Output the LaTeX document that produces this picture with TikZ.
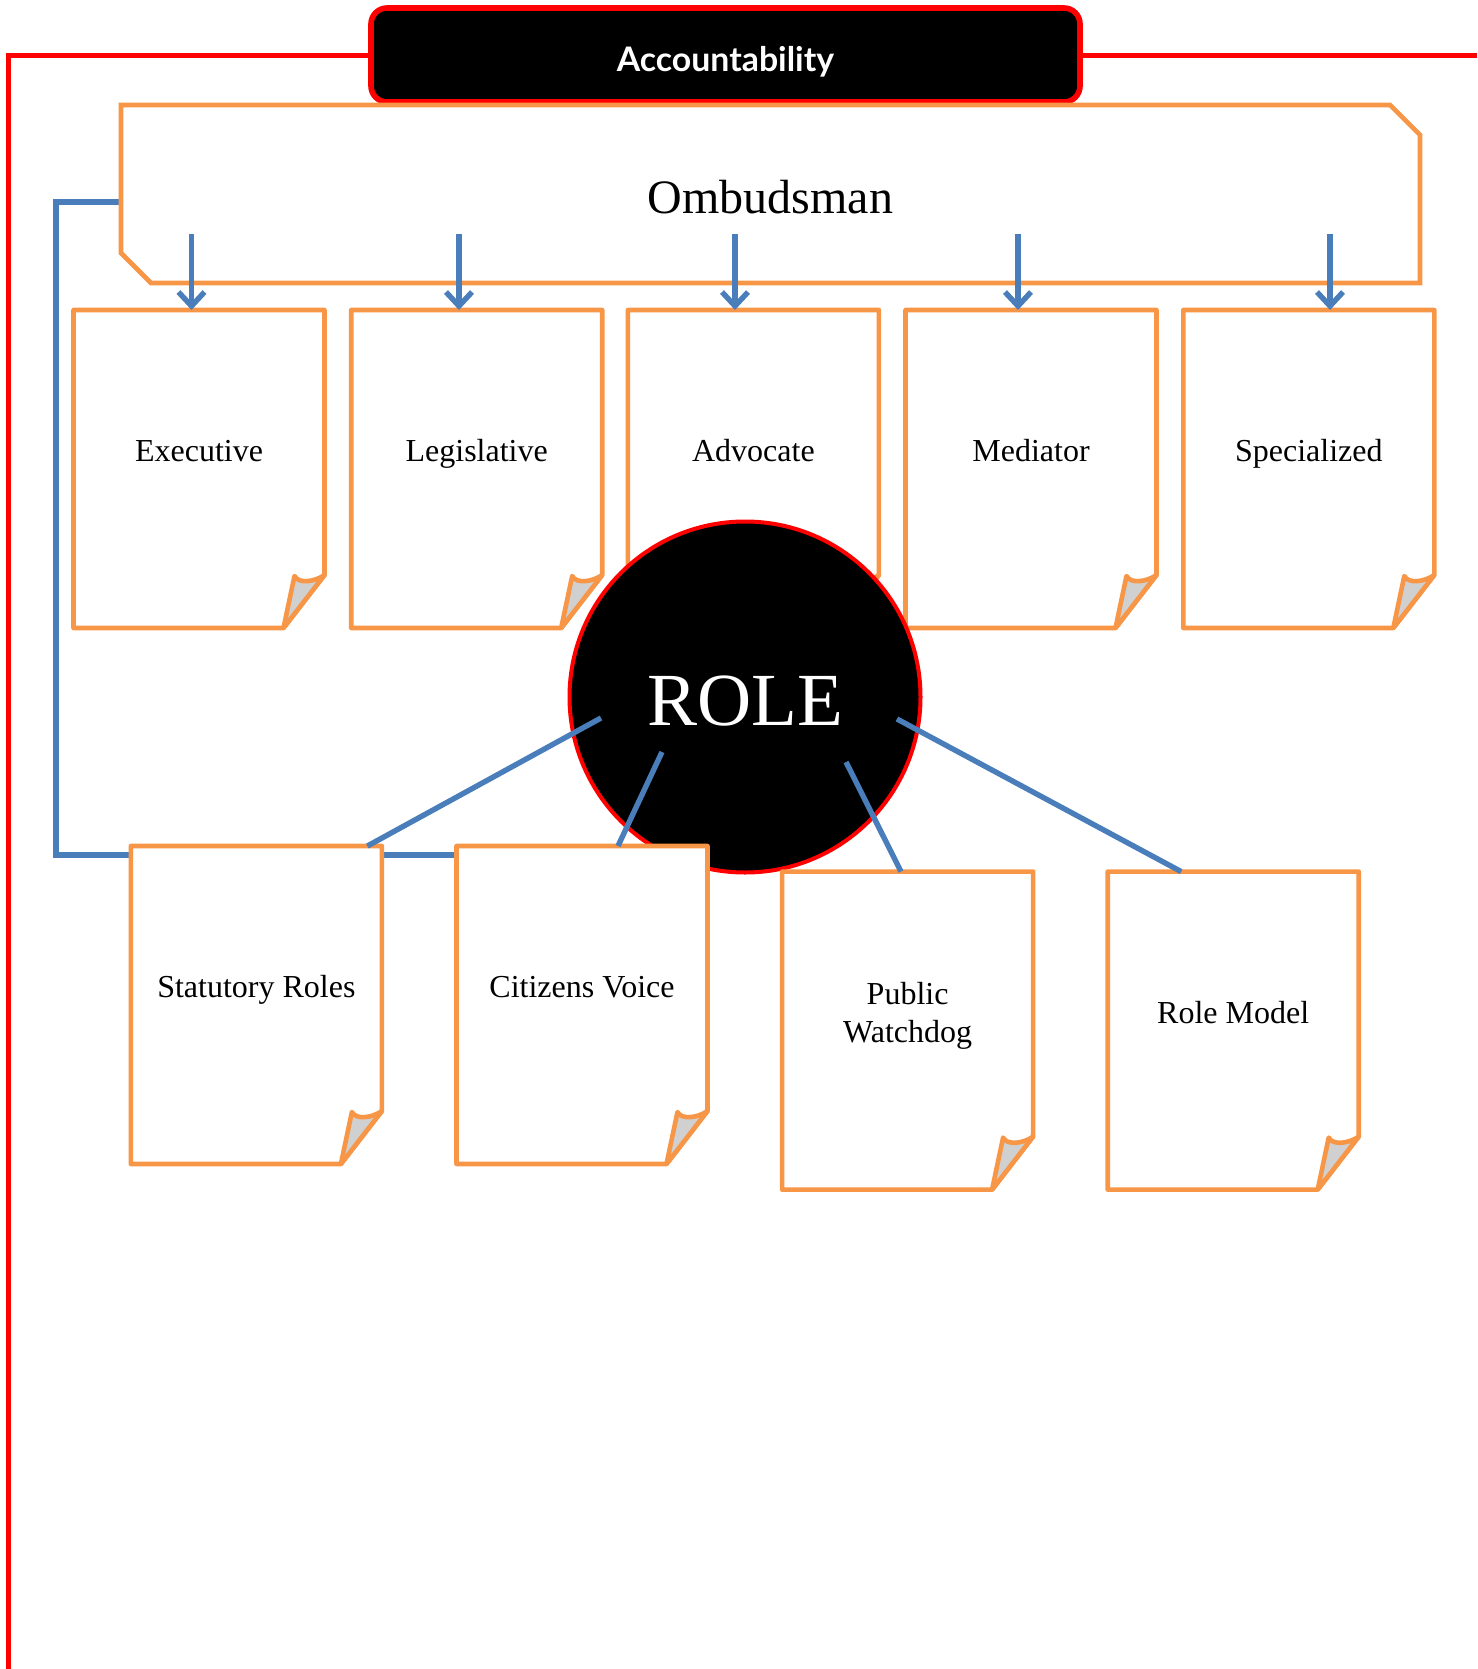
\documentclass[tikz,border=0pt]{standalone}
\usepackage{fontspec}
\setmainfont{Liberation Serif}
\newfontfamily\headfont{Lato}
\usetikzlibrary{arrows.meta,calc,backgrounds}

\definecolor{docorange}{RGB}{247,150,70}
\definecolor{linkblue}{RGB}{74,126,187}
\definecolor{foldgrey}{RGB}{208,208,208}

% page with a curled corner: [text options], name, centre, text
\newcommand{\docpage}[4][]{%
    \node [docpage] (#2) at (#3) {};
    \draw [docline] (#2.north west) -- (#2.north east) -- ($(#2.south east)+(0,-53)$) -- ($(#2.south east)+(-41,0)$) -- (#2.south west) -- cycle ;
    \draw [docfold] ($(#2.south east)+(-41,0)$) -- ($(#2.south east)+(-30,-52)$) .. controls ($(#2.south east)+(-26,-44)$) and ($(#2.south east)+(-10,-46)$) .. ($(#2.south east)+(0,-53)$) -- cycle ;
    \node [doctext,#1] (#2-text) at ($(#2.center)+(0,-15)$) {#4};
}

\begin{document}
\begin{tikzpicture}[x=0.5pt,y=0.5pt,yscale=-1,xscale=1,
    frameline/.style={draw=red, line width=2.5pt},
    headbox/.style={draw=red, fill=black, line width=2.8pt, rounded corners=8pt, minimum width=354.5pt, minimum height=47pt, inner sep=0pt},
    headtext/.style={text=white, font=\headfont\bfseries\fontsize{16.9}{20}\selectfont, inner sep=0pt},
    ombnode/.style={minimum width=649.5pt, minimum height=89pt, inner sep=0pt, outer sep=0pt, text height=19.5pt, font=\fontsize{24}{28}\selectfont},
    ombline/.style={draw=docorange, line width=2.3pt},
    docpage/.style={minimum width=125.5pt, minimum height=159pt, inner sep=0pt, outer sep=0pt},
    docline/.style={draw=docorange, fill=white, line width=2.3pt, line join=round},
    docfold/.style={draw=docorange, fill=foldgrey, line width=2.3pt, line join=round},
    doctext/.style={font=\fontsize{16}{19}\selectfont, align=center, inner sep=0pt, text height=11pt, text depth=3.5pt},
    rolecircle/.style={circle, draw=red, fill=black, line width=2pt, minimum size=175.5pt, inner sep=0pt, text=white, text height=29pt, font=\fontsize{37.5}{40}\selectfont},
    flowarrow/.style={draw=linkblue, line width=2.7pt, -{Straight Barb[length=7pt,width=13pt]}},
    roleline/.style={draw=linkblue, line width=2.7pt}]
    \useasboundingbox (0,0) rectangle (1477,1669);

    %Shape: Frame
    \draw [frameline] (1477,56) -- (8,56) -- (8,1669) ;
    %Shape: Rounded Rectangle
    \node [headbox] (acc) at (725.5,55) {};
    % Text Node
    \node [headtext] (acc-text) at ($(acc.center)+(0,7)$) {Accountability};

    %Shape: Snip Rectangle
    \node [ombnode] (omb) at (770.5,194) {Ombudsman};
    \draw [ombline] (omb.north west) -- ($(omb.north east)+(-30,0)$) -- ($(omb.north east)+(0,30)$) -- (omb.south east) -- ($(omb.south west)+(30,0)$) -- ($(omb.south west)+(0,-30)$) -- cycle ;

    %Shape: Folded Pages, top row
    \docpage{exec}{199,469}{Executive}
    \docpage{legis}{476.7,469}{Legislative}
    \docpage{advoc}{753.4,469}{Advocate}
    \docpage{media}{1031,469}{Mediator}
    \docpage{spec}{1308.8,469}{Specialized}

    %Straight Lines with arrows
    \draw [flowarrow] ($(exec.north)+(-7.5,-76)$) -- ($(exec.north)+(-7.5,0)$) ;
    \draw [flowarrow] ($(legis.north)+(-17.7,-76)$) -- ($(legis.north)+(-17.7,0)$) ;
    \draw [flowarrow] ($(advoc.north)+(-18.4,-76)$) -- ($(advoc.north)+(-18.4,0)$) ;
    \draw [flowarrow] ($(media.north)+(-13,-76)$) -- ($(media.north)+(-13,0)$) ;
    \draw [flowarrow] ($(spec.north)+(21.2,-76)$) -- ($(spec.north)+(21.2,0)$) ;

    %Shape: Circle
    \node [rolecircle] (role) at (745,697) {ROLE};

    %Shape: Folded Pages, bottom row
    \docpage{statut}{256.4,1005}{Statutory Roles}
    \docpage{citiz}{582,1005}{Citizens Voice}
    \docpage[text height=, text depth=]{watch}{907.6,1030.6}{Public\\Watchdog}
    \docpage{model}{1233.2,1030.6}{Role Model}

    %Straight Lines
    \draw [roleline] ($(role.center)+(-144,21)$) -- ($(statut.north)+(111,0)$) ;
    \draw [roleline] ($(role.center)+(-83,55)$) -- ($(citiz.north)+(36,0)$) ;
    \draw [roleline] ($(role.center)+(101,65)$) -- ($(watch.north)+(-6.6,0)$) ;
    \draw [roleline] ($(role.center)+(152,22)$) -- ($(model.north)+(-52,0)$) ;

    %Elbow Connector
    \begin{scope}[on background layer]
    \coordinate (elbow) at (56,855);
    \draw [roleline] ($(omb.west)+(0,8)$) -| (elbow) -- (citiz.west |- elbow) ;
    \end{scope}
\end{tikzpicture}
\end{document}
